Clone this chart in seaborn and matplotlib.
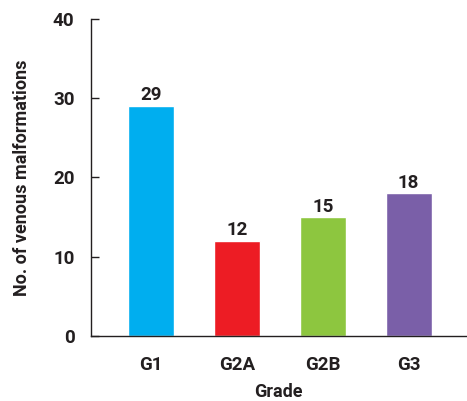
import matplotlib
matplotlib.use("Agg")
import matplotlib.pyplot as plt
import seaborn as sns
import pandas as pd

sns.set_style("white")
plt.rcParams['font.family'] = ['Roboto', 'DejaVu Sans']
plt.rcParams['font.weight'] = 'bold'

# Data
grades = ['G1', 'G2A', 'G2B', 'G3']
counts = [29, 12, 15, 18]
colors = ['#00aeef', '#ed1c24', '#8dc63f', '#7a5fa8']

data = pd.DataFrame({'grade': grades, 'count': counts})
txt = '#231f20'

fig = plt.figure(figsize=(4.67, 4.01), dpi=100)
ax = fig.add_axes([0.195, 0.162, 0.803, 0.791])

sns.barplot(data=data, x='grade', y='count', hue='grade', palette=colors,
            width=0.535, saturation=1, legend=False, ax=ax)

for i, v in enumerate(counts):
    ax.text(i, v + 0.2, str(v), ha='center', va='bottom',
            fontsize=13.5, fontweight='bold', color=txt)

ax.set_ylim(0, 40)
ax.set_xlim(-0.7, 3.67)
ax.set_yticks([0, 10, 20, 30, 40])
ax.set_xlabel('Grade', fontsize=13, fontweight='bold', color=txt, labelpad=6)
ax.set_ylabel('No. of venous malformations', fontsize=13, fontweight='bold',
              color=txt, labelpad=16)

sns.despine(ax=ax)
for s in ['left', 'bottom']:
    ax.spines[s].set_color(txt)
    ax.spines[s].set_linewidth(1)
ax.tick_params(axis='y', which='major', left=True, direction='in', length=6,
               width=1, color=txt, labelsize=13.5, labelcolor=txt, pad=12)
ax.tick_params(axis='x', bottom=False, labelsize=13.5, labelcolor=txt, pad=11)
for lbl in ax.get_xticklabels() + ax.get_yticklabels():
    lbl.set_fontweight('bold')

fig.savefig('out.png', dpi=100)
